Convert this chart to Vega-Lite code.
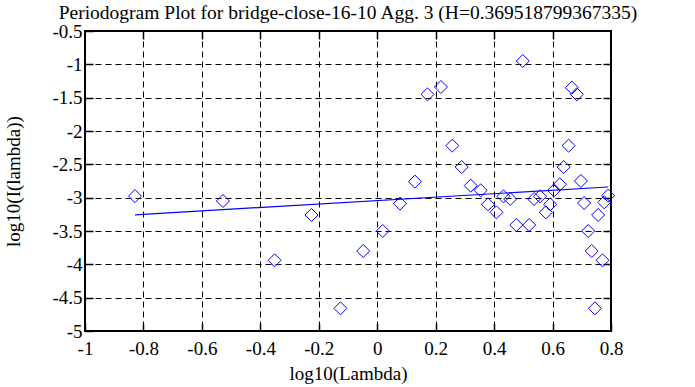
{
  "$schema": "https://vega.github.io/schema/vega-lite/v6.json",
  "width": 526,
  "height": 300,
  "autosize": {"type": "none"},
  "padding": {"left": 85, "top": 31, "right": 84, "bottom": 56},
  "background": "white",
  "title": {"text": "Periodogram Plot for bridge-close-16-10 Agg. 3 (H=0.369518799367335)", "font": "Liberation Serif", "fontSize": 19.5, "fontWeight": "normal", "color": "black", "offset": -1},
  "config": {
    "view": {"stroke": "black", "strokeWidth": 2},
    "axis": {"labelFont": "Liberation Serif", "titleFont": "Liberation Serif", "labelFontSize": 19, "titleFontSize": 19, "titleFontWeight": "normal", "labelColor": "black", "titleColor": "black", "domain": false, "grid": true, "gridColor": "black", "gridDash": [6, 4], "gridOpacity": 1, "gridWidth": 1, "tickColor": "black", "tickSize": -8, "tickWidth": 1.5, "labelOverlap": false, "labelExpr": "datum.value + ''"}
  },
  "resolve": {"axis": {"x": "independent", "y": "independent"}},
  "datasets": {
    "pts": [
      {"x": -0.829, "y": -2.977}, {"x": -0.528, "y": -3.05}, {"x": -0.351, "y": -3.94},
      {"x": -0.225, "y": -3.26}, {"x": -0.126, "y": -4.66}, {"x": -0.048, "y": -3.80},
      {"x": 0.019, "y": -3.50}, {"x": 0.078, "y": -3.09}, {"x": 0.129, "y": -2.76},
      {"x": 0.172, "y": -1.45}, {"x": 0.218, "y": -1.34}, {"x": 0.257, "y": -2.22},
      {"x": 0.289, "y": -2.54}, {"x": 0.32, "y": -2.82}, {"x": 0.354, "y": -2.89},
      {"x": 0.379, "y": -3.10}, {"x": 0.408, "y": -3.22}, {"x": 0.432, "y": -2.98},
      {"x": 0.455, "y": -3.02}, {"x": 0.476, "y": -3.41}, {"x": 0.498, "y": -0.95},
      {"x": 0.52, "y": -3.41}, {"x": 0.537, "y": -3.02}, {"x": 0.557, "y": -2.98},
      {"x": 0.577, "y": -3.22}, {"x": 0.592, "y": -3.10}, {"x": 0.605, "y": -2.89},
      {"x": 0.625, "y": -2.80}, {"x": 0.638, "y": -2.54}, {"x": 0.655, "y": -2.22},
      {"x": 0.666, "y": -1.35}, {"x": 0.683, "y": -1.45}, {"x": 0.697, "y": -2.75},
      {"x": 0.708, "y": -3.08}, {"x": 0.722, "y": -3.50}, {"x": 0.734, "y": -3.80},
      {"x": 0.745, "y": -4.66}, {"x": 0.756, "y": -3.26}, {"x": 0.771, "y": -3.94},
      {"x": 0.777, "y": -3.07}, {"x": 0.79, "y": -2.97}
    ],
    "fit": [
      {"x": -0.829, "y": -3.257}, {"x": 0.79, "y": -2.84}
    ]
  },
  "layer": [
    {
      "data": {"name": "fit"},
      "mark": {"type": "line", "color": "#0000ff", "strokeWidth": 1.2},
      "encoding": {
        "x": {"field": "x", "type": "quantitative", "scale": {"domain": [-1, 0.8], "nice": false, "zero": false}, "axis": {"title": "log10(Lambda)", "values": [-1, -0.8, -0.6, -0.4, -0.2, 0, 0.2, 0.4, 0.6, 0.8], "labelPadding": 16, "titlePadding": 6, "labelFlush": false}},
        "y": {"field": "y", "type": "quantitative", "scale": {"domain": [-5, -0.5], "nice": false, "zero": false}, "axis": {"title": "log10(I(lambda))", "values": [-5, -4.5, -4, -3.5, -3, -2.5, -2, -1.5, -1, -0.5], "labelPadding": 11, "titlePadding": 28, "labelFlush": false}}
      }
    },
    {
      "data": {"name": "pts"},
      "mark": {"type": "point", "shape": "diamond", "size": 170, "filled": false, "stroke": "#0000ff", "strokeWidth": 1, "opacity": 1},
      "encoding": {
        "x": {"field": "x", "type": "quantitative", "axis": {"orient": "top", "title": null, "labels": false, "grid": false, "values": [-0.8, -0.6, -0.4, -0.2, 0, 0.2, 0.4, 0.6]}},
        "y": {"field": "y", "type": "quantitative", "axis": {"orient": "right", "title": null, "labels": false, "grid": false, "values": [-4.5, -4, -3.5, -3, -2.5, -2, -1.5, -1]}}
      }
    }
  ]
}
